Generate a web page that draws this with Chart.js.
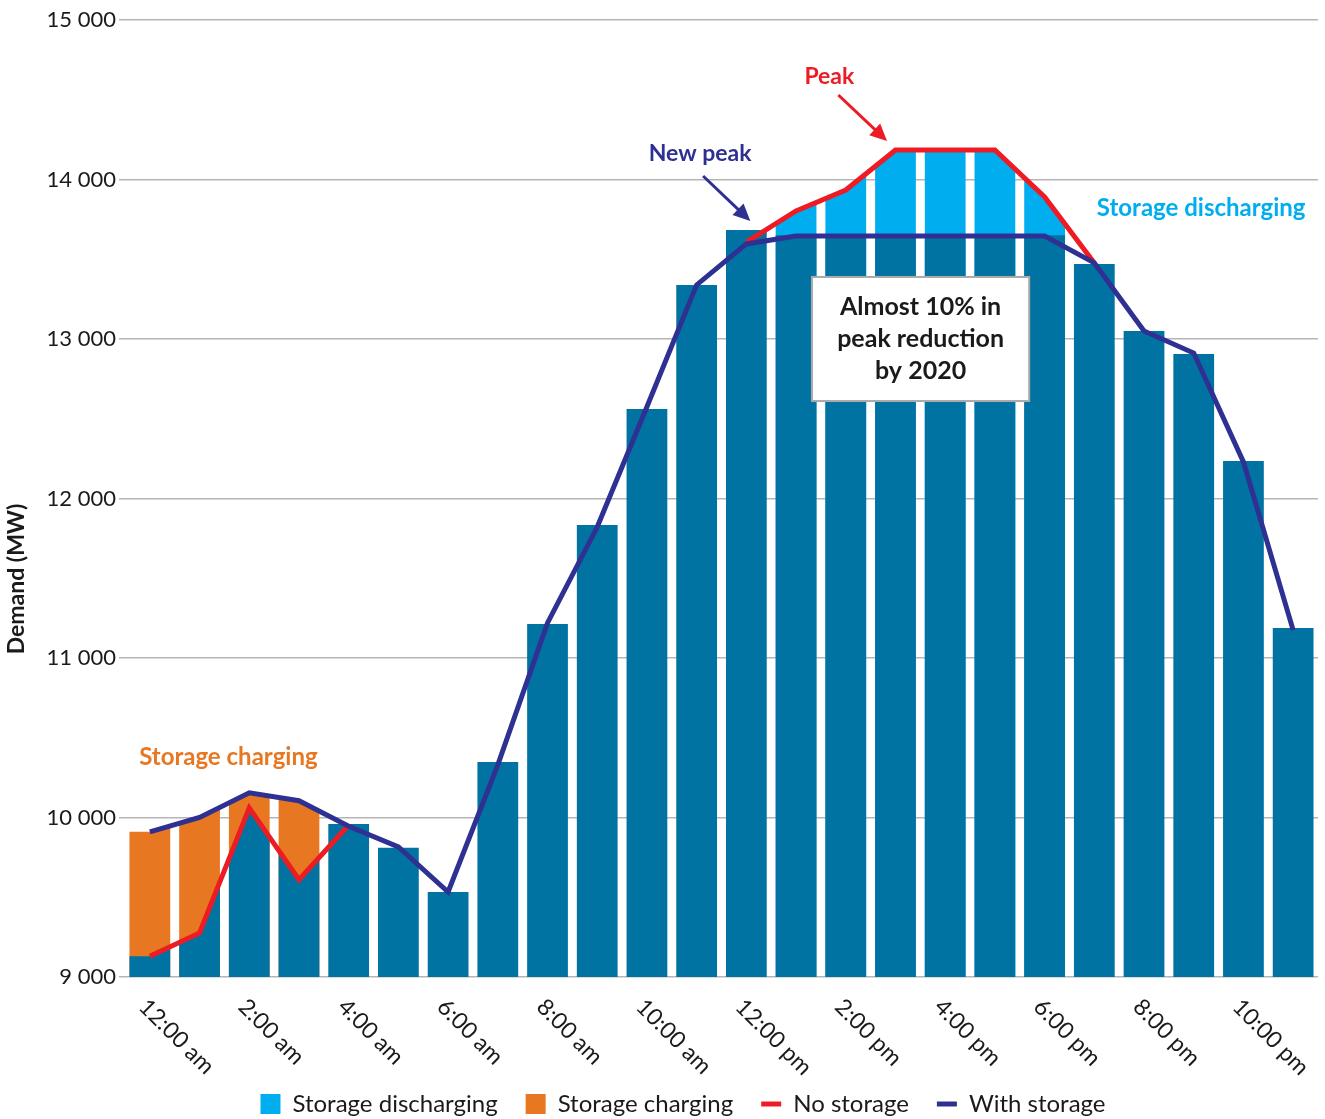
<!DOCTYPE html>
<html>
<head>
<meta charset="utf-8">
<title>Demand with and without storage</title>
<script src="https://cdn.jsdelivr.net/npm/chart.js@4.4.1/dist/chart.umd.min.js"></script>
<style>
  body { margin: 0; background: #fff; }
  #wrap { width: 1325px; height: 1119px; }
</style>
</head>
<body>
<div id="wrap"><canvas id="demandChart" width="1325" height="1119"></canvas></div>
<script>
// hourly demand in MW
const hours = ['12:00 am', '1:00 am', '2:00 am', '3:00 am', '4:00 am', '5:00 am',
  '6:00 am', '7:00 am', '8:00 am', '9:00 am', '10:00 am', '11:00 am',
  '12:00 pm', '1:00 pm', '2:00 pm', '3:00 pm', '4:00 pm', '5:00 pm',
  '6:00 pm', '7:00 pm', '8:00 pm', '9:00 pm', '10:00 pm', '11:00 pm']

const baseDemand = [9130, 9276, 10060, 9610, 9960, 9810, 9533, 10348, 11213, 11834, 12561, 13339,
  13683, 13650, 13650, 13650, 13650, 13650, 13650, 13470, 13050, 12906, 12235, 11188]

const noStorage = [9130, 9276, 10060, 9610, 9953, null, null, null, null, null, null, null,
  13608, 13803, 13934, 14185, 14185, 14185, 13890, 13477, null, null, null, null]
const withStorage = [9910, 10000, 10155, 10105, 9945, 9815, 9533, 10330, 11220, 11821, 12575, 13339,
  13596, 13646, 13646, 13646, 13646, 13646, 13646, 13477, 13050, 12912, 12229, 11175]

// hours when the storage is charging / discharging
const chargingHours = [0, 1, 2, 3]
const dischargingHours = [13, 14, 15, 16, 17, 18]

const yTicks = [9000, 10000, 11000, 12000, 13000, 14000, 15000]

const DARK_BLUE = '#0073a3'
const LIGHT_BLUE = '#00aeef'
const ORANGE = '#e87722'
const RED = '#ed1c24'
const NAVY = '#2e3192'
const GRID = '#b5b5b5'
const TEXT = '#1a1a1a'
const FONT = 'Lato'

function fmt(v){
  return String(v).replace(/\B(?=(\d{3})+(?!\d))/g, ' ')
}

// value of a series at a fractional hour (flat past its ends)
function valueAt(arr, t){
  const i0 = Math.floor(t), i1 = Math.ceil(t)
  const a = arr[Math.max(0, i0)], b = arr[Math.min(arr.length - 1, i1)]
  if (a == null && b == null) return null
  if (a == null) return b
  if (b == null) return a
  if (i0 < 0 || i1 > arr.length - 1 || i0 === i1) return i0 < 0 ? b : a
  return a + (b - a) * (t - i0)
}

// highest point of a series across one bar column
function columnTop(arr, i){
  return Math.max(...[i - 0.5, i, i + 0.5].map(t => valueAt(arr, t)).filter(v => v != null))
}

const chargingTop = hours.map((h, i) => chargingHours.includes(i) ? columnTop(withStorage, i) : null)
const dischargingTop = hours.map((h, i) => dischargingHours.includes(i) ? columnTop(noStorage, i) : null)
const demandTop = baseDemand.map((v, i) => chargingHours.includes(i) ? columnTop(noStorage, i) : v)

function arrow(ctx, x1, y1, x2, y2, color){
  const ang = Math.atan2(y2 - y1, x2 - x1)
  const head = 17
  ctx.save()
  ctx.strokeStyle = color
  ctx.fillStyle = color
  ctx.lineWidth = 3
  ctx.beginPath()
  ctx.moveTo(x1, y1)
  ctx.lineTo(x2 - Math.cos(ang) * head * 0.8, y2 - Math.sin(ang) * head * 0.8)
  ctx.stroke()
  ctx.beginPath()
  ctx.moveTo(x2, y2)
  ctx.lineTo(x2 - head * Math.cos(ang) + 8 * Math.sin(ang), y2 - head * Math.sin(ang) - 8 * Math.cos(ang))
  ctx.lineTo(x2 - head * Math.cos(ang) - 8 * Math.sin(ang), y2 - head * Math.sin(ang) + 8 * Math.cos(ang))
  ctx.closePath()
  ctx.fill()
  ctx.restore()
}

// cut the tops of some bars along a line series
const clipUnderLine = {
  id: 'clipUnderLine',
  beforeDatasetDraw(chart, args){
    const ds = chart.data.datasets[args.index]
    if (!ds.clipUnder) return
    const {line, cols} = ds.clipUnder
    const ctx = chart.ctx
    const xs = chart.scales.x, ys = chart.scales.y, ca = chart.chartArea
    ctx.save()
    ctx.beginPath()
    hours.forEach((h, i) => {
      const x0 = xs.getPixelForValue(i - 0.5), x1 = xs.getPixelForValue(i + 0.5)
      if (!cols.includes(i)) {
        ctx.rect(x0, ca.top, x1 - x0, ca.bottom - ca.top)
        return
      }
      ctx.moveTo(x0, ca.bottom)
      ;[i - 0.5, i, i + 0.5].forEach(t => {
        ctx.lineTo(xs.getPixelForValue(t), ys.getPixelForValue(valueAt(line, t)))
      })
      ctx.lineTo(x1, ca.bottom)
      ctx.closePath()
    })
    ctx.clip()
  },
  afterDatasetDraw(chart, args){
    if (chart.data.datasets[args.index].clipUnder) chart.ctx.restore()
  }
}

// x labels (rotated clockwise), axis title and the callouts
const extras = {
  id: 'extras',
  afterDraw(chart){
    const ctx = chart.ctx
    const xs = chart.scales.x
    const ys = chart.scales.y
    const X = i => xs.getPixelForValue(i)
    const Y = v => ys.getPixelForValue(v)

    ctx.save()
    ctx.fillStyle = TEXT
    ctx.font = '400 23px ' + FONT
    ctx.textAlign = 'left'
    ctx.textBaseline = 'middle'
    hours.forEach((h, i) => {
      if (i % 2) return
      ctx.save()
      ctx.translate(X(i) - 7, ys.bottom + 26)
      ctx.rotate(Math.PI / 4)
      ctx.fillText(h, 0, 0)
      ctx.restore()
    })

    // y axis title
    ctx.save()
    ctx.translate(17, 579)
    ctx.rotate(-Math.PI / 2)
    ctx.textAlign = 'center'
    ctx.font = 'bold 23px ' + FONT
    ctx.fillText('Demand (MW)', 0, 0)
    ctx.restore()

    ctx.textAlign = 'center'
    ctx.font = 'bold 23px ' + FONT

    ctx.fillStyle = RED
    ctx.fillText('Peak', X(13.67), Y(14643))
    arrow(ctx, X(13.85), Y(14530), X(14.83), Y(14241), RED)

    ctx.fillStyle = NAVY
    ctx.fillText('New peak', X(11.07), Y(14160))
    arrow(ctx, X(11.13), Y(14022), X(12.08), Y(13740), NAVY)

    ctx.font = 'bold 24px ' + FONT
    ctx.fillStyle = LIGHT_BLUE
    ctx.fillText('Storage discharging', X(21.15), Y(13821))

    ctx.fillStyle = ORANGE
    ctx.fillText('Storage charging', X(1.58), Y(10379))

    // note box
    const bx1 = X(13.32), bx2 = X(17.69), by1 = Y(13389), by2 = Y(12611)
    ctx.fillStyle = '#fff'
    ctx.fillRect(bx1, by1, bx2 - bx1, by2 - by1)
    ctx.strokeStyle = '#a9a9a9'
    ctx.lineWidth = 2
    ctx.strokeRect(bx1, by1, bx2 - bx1, by2 - by1)
    ctx.fillStyle = TEXT
    ctx.font = 'bold 25px ' + FONT
    const cx = (bx1 + bx2) / 2
    const cy = (by1 + by2) / 2
    ctx.fillText('Almost 10% in', cx, cy - 32)
    ctx.fillText('peak reduction', cx, cy)
    ctx.fillText('by 2020', cx, cy + 32)
    ctx.restore()
  }
}

const ctx = document.getElementById('demandChart').getContext('2d')
const chart = new Chart(ctx, {
  type: 'bar',
  data: {
    labels: hours,
    datasets: [
      {
        label: 'Demand',
        data: demandTop,
        backgroundColor: DARK_BLUE,
        clipUnder: { line: noStorage, cols: chargingHours },
        order: 3
      },
      {
        label: 'Storage discharging',
        data: dischargingTop,
        backgroundColor: LIGHT_BLUE,
        pointStyle: 'rect',
        clipUnder: { line: noStorage, cols: dischargingHours },
        order: 4
      },
      {
        label: 'Storage charging',
        data: chargingTop,
        backgroundColor: ORANGE,
        pointStyle: 'rect',
        clipUnder: { line: withStorage, cols: chargingHours },
        order: 4
      },
      {
        type: 'line',
        label: 'No storage',
        data: noStorage,
        borderColor: RED,
        backgroundColor: RED,
        borderWidth: 5,
        pointRadius: 0,
        pointStyle: 'line',
        tension: 0,
        spanGaps: false,
        order: 1
      },
      {
        type: 'line',
        label: 'With storage',
        data: withStorage,
        borderColor: NAVY,
        backgroundColor: NAVY,
        borderWidth: 5,
        pointRadius: 0,
        pointStyle: 'line',
        tension: 0,
        order: 0
      }
    ]
  },
  options: {
    responsive: false,
    devicePixelRatio: 1,
    animation: false,
    layout: {
      padding: { left: 48, right: 7, top: 20, bottom: -7 }
    },
    datasets: {
      bar: {
        barPercentage: 0.82,
        categoryPercentage: 1.0,
        borderWidth: 0
      }
    },
    scales: {
      x: {
        stacked: true,
        grid: { display: false },
        border: { display: false },
        ticks: { display: false },
        afterFit: function(scale){ scale.height = 87 }
      },
      y: {
        stacked: false,
        min: 9000,
        max: 15000,
        afterBuildTicks: function(scale){
          scale.ticks = yTicks.map(v => ({ value: v }))
        },
        afterFit: function(scale){ scale.width = 77 },
        border: { display: false },
        grid: { color: GRID, lineWidth: 1.5, tickLength: 6 },
        ticks: {
          padding: 3,
          color: TEXT,
          font: { family: FONT, size: 22 },
          callback: v => fmt(v)
        }
      }
    },
    plugins: {
      tooltip: { enabled: false },
      legend: {
        position: 'bottom',
        labels: {
          usePointStyle: true,
          pointStyleWidth: 20,
          boxWidth: 20,
          boxHeight: 20,
          padding: 28,
          color: TEXT,
          font: { family: FONT, size: 24 },
          filter: item => item.datasetIndex !== 0,
          sort: (a, b) => a.datasetIndex - b.datasetIndex
        }
      }
    }
  },
  plugins: [clipUnderLine, extras]
})
</script>
</body>
</html>
